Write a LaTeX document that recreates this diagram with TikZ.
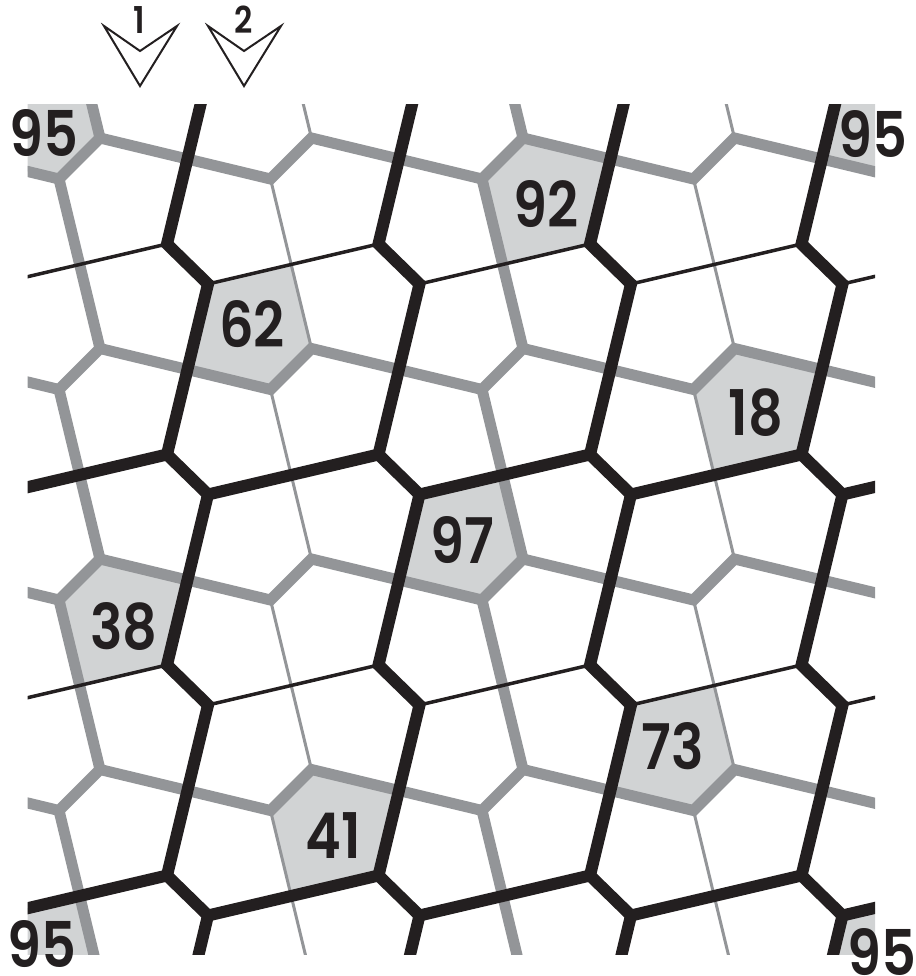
\documentclass[tikz,border=0pt]{standalone}
\usepackage{fontspec}
\newfontfamily\numfont[FakeStretch=0.86]{Poppins SemiBold}
\definecolor{lgray}{HTML}{939598}
\definecolor{shade}{HTML}{D1D3D4}
\definecolor{ink}{HTML}{231F20}
\begin{document}
\begin{tikzpicture}[x=1pt,y=-1pt,
  blk/.style={draw=ink, line width=12pt, line join=miter, miter limit=4},
  blkthin/.style={draw=ink, line width=3.5pt},
  gry/.style={draw=lgray, line width=11pt, line join=miter, miter limit=4},
  grythin/.style={draw=lgray, line width=3pt},
  cell/.style={fill=shade},
  lbl/.style={font=\numfont\fontsize{63}{63}\selectfont, text=ink, inner sep=0pt},
  arr/.style={draw=ink, line width=2pt, line join=miter},
  alab/.style={font=\numfont\fontsize{37}{37}\selectfont, text=ink, inner sep=0pt}]
\useasboundingbox (0,0) rectangle (915,976);
\foreach \k in {0,...,5}{
  \foreach \l in {0,...,5}{
    \coordinate (A\k\l) at ({167+211.5*(\k-1)},{244+210.5*(\l-1)});
    \coordinate (B\k\l) at ({208+211.5*(\k-1)},{284+210.5*(\l-1)});
    \coordinate (P\k\l) at ({100+211.5*(\k-1)},{138+210.5*(\l-1)});
    \coordinate (Q\k\l) at ({59+211.5*(\k-1)},{179+210.5*(\l-1)});
  }}
\begin{scope}
\clip (27.5,105) rectangle (875,954);
% shaded cells
\fill[cell] (B00) -- (intersection of B00--A10 and Q10--P11) -- (P11) -- (Q11) -- (intersection of P01--Q11 and B00--A01) -- cycle;
\fill[cell] (B40) -- (intersection of B40--A50 and Q50--P51) -- (P51) -- (Q51) -- (intersection of P41--Q51 and B40--A41) -- cycle;
\fill[cell] (B04) -- (intersection of B04--A14 and Q14--P15) -- (P15) -- (Q15) -- (intersection of P05--Q15 and B04--A05) -- cycle;
\fill[cell] (B44) -- (intersection of B44--A54 and Q54--P55) -- (P55) -- (Q55) -- (intersection of P45--Q55 and B44--A45) -- cycle;
\fill[cell] (B11) -- (intersection of B11--A21 and Q21--P22) -- (P22) -- (Q22) -- (intersection of P12--Q22 and B11--A12) -- cycle;
\fill[cell] (B22) -- (intersection of B22--A32 and Q32--P33) -- (P33) -- (Q33) -- (intersection of P23--Q33 and B22--A23) -- cycle;
\fill[cell] (B33) -- (intersection of B33--A43 and Q43--P44) -- (P44) -- (Q44) -- (intersection of P34--Q44 and B33--A34) -- cycle;
\fill[cell] (Q31) -- (P31) -- (intersection of P31--Q41 and A31--B30) -- (A31) -- (intersection of B21--A31 and Q31--P32) -- cycle;
\fill[cell] (Q42) -- (P42) -- (intersection of P42--Q52 and A42--B41) -- (A42) -- (intersection of B32--A42 and Q42--P43) -- cycle;
\fill[cell] (Q13) -- (P13) -- (intersection of P13--Q23 and A13--B12) -- (A13) -- (intersection of B03--A13 and Q13--P14) -- cycle;
\fill[cell] (Q24) -- (P24) -- (intersection of P24--Q34 and A24--B23) -- (A24) -- (intersection of B14--A24 and Q24--P25) -- cycle;
% gray net
\foreach \l in {0,...,5}{
  \draw[gry] (Q0\l) -- (P0\l) -- (Q1\l) -- (P1\l) -- (Q2\l) -- (P2\l) -- (Q3\l) -- (P3\l) -- (Q4\l) -- (P4\l) -- (Q5\l) -- (P5\l);
}
\foreach \k/\s in {1/gry,2/grythin,3/gry,4/grythin}{
  \foreach \l/\m in {0/1,1/2,2/3,3/4,4/5}{
    \draw[\s] (Q\k\l) -- (P\k\m);
  }}
% black net
\foreach \k in {0,...,5}{
  \draw[blk] (A\k0) -- (B\k0) -- (A\k1) -- (B\k1) -- (A\k2) -- (B\k2) -- (A\k3) -- (B\k3) -- (A\k4) -- (B\k4) -- (A\k5) -- (B\k5);
}
\foreach \l/\s in {1/blkthin,2/blk,3/blkthin,4/blk}{
  \foreach \k/\n in {0/1,1/2,2/3,3/4,4/5}{
    \draw[\s] (B\k\l) -- (A\n\l);
  }}
\end{scope}
% labels
\node[lbl] (c95a) at (43.5,133) {95};
\node[lbl] (c95b) at (872.5,134) {95};
\node[lbl] (c95c) at (42,944.5) {95};
\node[lbl] (c95d) at (882,952.5) {95};
\node[lbl] (c92) at (546,204.5) {92};
\node[lbl] (c62) at (252,324.5) {62};
\node[lbl] (c18) at (756,412.5) {18};
\node[lbl] (c97) at (462,540) {97};
\node[lbl] (c38) at (124,626.5) {38};
\node[lbl] (c73) at (673,746.5) {73};
\node[lbl] (c41) at (333.5,835.5) {41};
% arrows
\draw[arr] (104,26) -- (140,86) -- (177,26) -- (140,51) -- cycle;
\draw[arr] (208,26) -- (244,86) -- (281,26) -- (244,51) -- cycle;
\node[alab] (t1) at (139,20) {1};
\node[alab] (t2) at (243.5,20) {2};
\end{tikzpicture}
\end{document}
